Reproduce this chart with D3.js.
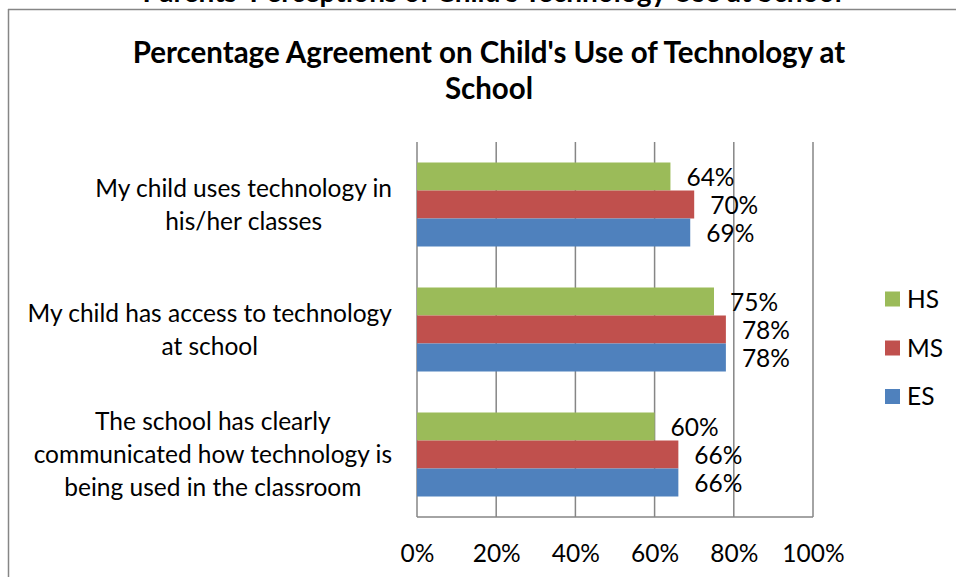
<!DOCTYPE html>
<html>
<head>
<meta charset="utf-8">
<script src="https://cdn.jsdelivr.net/npm/d3@7/dist/d3.min.js"></script>
<style>
  html, body { margin: 0; padding: 0; background: #fff; }
  svg { display: block; }
  text { font-family: Lato, "Open Sans", sans-serif; fill: #000; }
</style>
</head>
<body>
<svg id="chart" width="956" height="577"></svg>
<script>
// Survey categories (top to bottom) and series
const categories = [
  ["My child uses technology in", "his/her classes"],
  ["My child has access to technology", "at school"],
  ["The school has clearly", "communicated how technology is", "being used in the classroom"]
];
const seriesNames = ["HS", "MS", "ES"];
const hsValues = [64, 75, 60];
const msValues = [70, 78, 66];
const esValues = [69, 78, 66];
const tickValues = [0, 20, 40, 60, 80, 100];
const seriesColors = ["#9BBB59", "#C0504D", "#4F81BD"];

const series = [hsValues, msValues, esValues];

const svg = d3.select("#chart");
const W = 956, H = 577;
const bodySize = 24.5;

// Chart frame
svg.append("line").attr("x1", 8).attr("x2", W).attr("y1", 9.5).attr("y2", 9.5)
  .attr("stroke", "#868686").attr("stroke-width", 1.5);
svg.append("line").attr("x1", 8.5).attr("x2", 8.5).attr("y1", 9).attr("y2", H)
  .attr("stroke", "#868686").attr("stroke-width", 1.5);

// Page heading above the chart frame (runs off the top edge)
svg.append("text").attr("x", 492).attr("y", 1.5).attr("text-anchor", "middle")
  .attr("font-size", 28).attr("font-weight", "bold")
  .text("Parents' Perceptions of Child's Technology Use at School");

// Title
const title = svg.append("text").attr("text-anchor", "middle")
  .attr("font-size", 29.5).attr("font-weight", "bold");
title.append("tspan").attr("x", 489).attr("y", 63)
  .text("Percentage Agreement on Child's Use of Technology at");
title.append("tspan").attr("x", 489).attr("y", 99).text("School");

// Scales
const x = d3.scaleLinear().domain([0, 100]).range([417, 813]);
const y = d3.scaleBand().domain(d3.range(categories.length)).range([142, 517]);
const barH = 28;

// Vertical gridlines
svg.append("g").selectAll("line").data(tickValues).join("line")
  .attr("x1", d => x(d)).attr("x2", d => x(d))
  .attr("y1", 142).attr("y2", 517)
  .attr("stroke", "#868686").attr("stroke-width", 1.5);

// Bottom axis line
svg.append("line").attr("x1", x(0)).attr("x2", x(100)).attr("y1", 517).attr("y2", 517)
  .attr("stroke", "#868686").attr("stroke-width", 1.5);

// Tick labels
const xAxis = d3.axisBottom(x).tickValues(tickValues).tickSize(0).tickPadding(0)
  .tickFormat(d => d + "%");
const ax = svg.append("g").attr("transform", "translate(0,553)").call(xAxis);
ax.select(".domain").remove();
ax.selectAll("text").attr("font-size", bodySize).attr("y", 0).attr("dy", "0.35em")
  .style("font-family", "Lato, 'Open Sans', sans-serif").attr("fill", "#000");

// Bars and value labels
categories.forEach((cat, ci) => {
  const center = y(ci) + y.bandwidth() / 2;
  const top = center - barH * 1.5;
  series.forEach((vals, si) => {
    const by = top + si * barH;
    svg.append("rect")
      .attr("x", x(0)).attr("y", by)
      .attr("width", x(vals[ci]) - x(0)).attr("height", barH)
      .attr("fill", seriesColors[si]);
    svg.append("text")
      .attr("x", x(vals[ci]) + 16).attr("y", by + barH / 2 + 1)
      .attr("dy", "0.35em").attr("font-size", bodySize)
      .text(vals[ci] + "%");
  });
  // Category label: block right-aligned to the axis, lines centred in the block
  const lh = 33;
  const n = cat.length;
  const t = svg.append("text").attr("text-anchor", "middle").attr("font-size", bodySize);
  const spans = cat.map((line, li) => t.append("tspan")
    .attr("y", center + (li - (n - 1) / 2) * lh).attr("dy", "0.35em").text(line));
  const maxW = d3.max(spans, s => s.node().getComputedTextLength());
  spans.forEach(s => s.attr("x", 392 - maxW / 2));
});

// Legend
const legendY = [299, 348, 396.5];
seriesNames.forEach((name, i) => {
  svg.append("rect").attr("x", 885).attr("y", legendY[i] - 7.5)
    .attr("width", 15).attr("height", 15).attr("fill", seriesColors[i]);
  svg.append("text").attr("x", 907).attr("y", legendY[i]).attr("dy", "0.35em")
    .attr("font-size", bodySize).text(name);
});
</script>
</body>
</html>
